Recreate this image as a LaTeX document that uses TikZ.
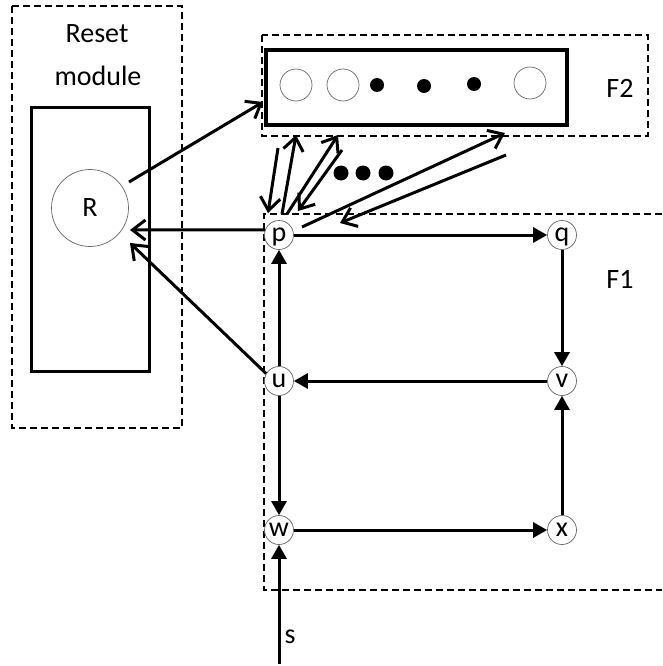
\documentclass[tikz,border=0pt]{standalone}
\usepackage{fontspec}
\setmainfont{Carlito}
\usetikzlibrary{arrows.meta}
\begin{document}
\begin{tikzpicture}[x=1pt,y=-1pt,
  dashbox/.style={draw, dash pattern=on 7pt off 4pt, line width=1.8pt},
  solidbox/.style={draw, line width=3pt},
  neuron/.style={circle, draw=black!60, line width=0.7pt, minimum size=29pt, inner sep=0pt, fill=white,
    text height=13pt, text depth=0pt, font=\fontsize{28}{30}\selectfont},
  ring/.style={circle, draw=black!60, line width=0.7pt, minimum size=32pt, inner sep=0pt},
  dot/.style={circle, fill=black, minimum size=14pt, inner sep=0pt},
  flow/.style={-{Triangle[length=14pt,width=15pt]}, line width=3pt},
  link/.style={-{Straight Barb[length=13pt,width=20pt]}, line width=3pt},
  lbl/.style={font=\fontsize{28}{30}\selectfont, anchor=base, inner sep=0pt}]
\useasboundingbox (0,0) rectangle (662,666);

% Reset module
\draw[dashbox] (12,6) rectangle (182,428);
\node[lbl] (reset) at (97,43) {Reset};
\node[lbl] (module) at (98,86) {module};
\draw[solidbox] (31,108) rectangle (149,371);
\node[circle, draw=black!60, line width=0.7pt, minimum size=77pt, inner sep=0pt,
  font=\fontsize{28}{30}\selectfont] (R) at (90,208) {R};

% F2
\draw[dashbox] (262,35) rectangle (648,136);
\draw[line width=3.5pt] (266,50) rectangle (567,125);
\node[ring] (c1) at (296,85) {};
\node[ring] (c2) at (343,85) {};
\node[dot] (d1) at (377,85) {};
\node[dot] (d2) at (424,86) {};
\node[dot] (d3) at (474,84) {};
\node[ring] (c3) at (530,83) {};
\node[lbl] (f2lbl) at (620,98) {F2};

% F1
\draw[dashbox] (662,214) -- (264,214) -- (264,590) -- (662,590);
\node[lbl] (f1lbl) at (620,288) {F1};

\node[neuron] (p) at (279,235) {p};
\node[neuron] (q) at (562,235) {q};
\node[neuron] (u) at (279,381) {u};
\node[neuron] (v) at (562,381) {v};
\node[neuron] (w) at (279,530) {w};
\node[neuron] (x) at (562,530) {x};

\draw[flow] (p) -- (q);
\draw[flow] (q) -- (v);
\draw[flow] (v) -- (u);
\draw[flow] (u) -- (p);
\draw[flow] (u) -- (w);
\draw[flow] (w) -- (x);
\draw[flow] (x) -- (v);

\coordinate (sin) at (279,664);
\draw[flow] (sin) -- (w);
\node[lbl] (slbl) at (290,643) {s};

% links to R
\coordinate (rp) at (130,230);
\coordinate (ru) at (130,243);
\coordinate (rout) at (129,182);
\coordinate (f2in) at (263,102);
\draw[link] (p.160) -- (rp);
\draw[link] (u.150) -- (ru);
\draw[link] (rout) -- (f2in);

% links between p and F2
\coordinate (a1) at (278,148);
\coordinate (a2) at (296,135);
\coordinate (a3) at (338,135);
\coordinate (a4) at (342,150);
\coordinate (a5) at (505,133);
\coordinate (a6) at (506,155);
\coordinate (b1) at (268,213);
\coordinate (b2) at (282,214);
\coordinate (b3) at (287,214);
\coordinate (b4) at (298,211);
\coordinate (b5) at (302,227);
\coordinate (b6) at (340,223);
\draw[link] (a1) -- (b1);
\draw[link] (b2) -- (a2);
\draw[link] (b3) -- (a3);
\draw[link] (a4) -- (b4);
\draw[link] (b5) -- (a5);
\draw[link] (a6) -- (b6);

\node[dot, minimum size=15pt] (e1) at (341,173) {};
\node[dot, minimum size=15pt] (e2) at (363,173) {};
\node[dot, minimum size=15pt] (e3) at (386,173) {};
\end{tikzpicture}
\end{document}
